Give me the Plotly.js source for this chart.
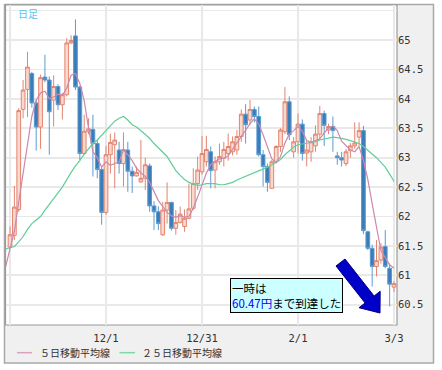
<!DOCTYPE html>
<html><head><meta charset="utf-8">
<script src="https://cdn.plot.ly/plotly-3.0.1.min.js"></script>
<style>html,body{margin:0;padding:0;background:#fff;}#chart{width:442px;height:370px;}</style>
</head><body><div id="chart"></div>
<script>
// ---- data ----
const openP  = [61.48,61.68,62.12,63.82,64.16,64.43,63.93,63.52,64.37,64.32,63.98,64.21,63.90,64.07,64.95,65.07,64.20,63.07,63.44,63.48,63.24,62.80,
                62.07,63.05,63.22,63.13,62.90,63.13,62.77,62.69,62.59,62.65,62.86,62.18,62.08,61.69,62.11,62.24,61.80,61.90,61.83,61.97,62.14,62.56,
                62.76,62.93,63.10,62.79,62.93,62.99,63.07,63.10,63.13,63.36,63.74,63.64,63.82,63.70,63.05,62.85,62.48,62.93,63.19,63.44,63.95,63.10,
                63.27,63.57,63.08,63.10,63.20,63.40,63.75,63.47,63.53,63.03,63.00,62.90,63.12,63.20,63.35,63.46,61.74,61.46,61.15,61.26,61.49,61.12,60.80];
const highP  = [61.83,62.52,63.84,64.32,64.80,64.46,63.98,64.41,64.75,64.38,64.40,64.25,64.10,65.03,65.08,65.35,64.22,63.73,63.67,63.73,63.30,62.85,
                63.20,63.41,63.43,63.27,63.43,63.27,62.85,62.85,63.30,63.00,62.90,62.26,62.17,62.25,62.58,62.25,62.11,62.17,62.12,62.56,62.82,63.02,
                63.37,63.37,63.19,63.02,63.24,63.27,63.41,63.36,63.47,63.82,63.91,63.98,63.87,63.87,63.13,62.90,62.96,63.21,63.50,64.20,64.04,63.35,
                63.75,63.65,63.30,63.35,63.55,63.88,63.80,63.58,63.70,63.10,63.10,63.15,63.25,63.60,63.60,63.54,61.76,61.52,61.60,61.55,61.77,61.20,60.90];
const lowP   = [61.46,61.60,62.08,63.67,63.69,63.85,63.12,63.15,64.28,63.05,63.53,63.81,63.65,64.04,64.93,64.15,62.96,63.05,63.40,62.68,62.65,61.86,
                62.03,62.73,62.48,62.73,62.51,62.42,62.40,62.68,62.57,62.45,62.08,61.77,61.77,61.67,61.88,61.76,61.69,61.88,61.74,61.95,62.11,62.45,
                62.71,62.85,62.48,62.48,62.88,62.85,62.95,63.04,63.05,63.27,63.24,63.56,63.60,63.02,62.51,62.42,62.47,62.90,63.10,63.40,63.30,63.00,
                63.07,62.95,62.85,62.93,63.10,63.30,63.20,63.40,63.10,62.88,62.85,62.86,63.00,63.15,63.20,61.70,61.43,60.81,60.98,61.20,61.12,60.47,60.72];
const closeP = [61.69,62.16,63.80,64.15,64.54,63.93,63.52,64.36,64.32,63.78,64.21,63.90,64.07,64.95,64.99,64.20,63.07,63.45,63.49,63.24,62.80,62.07,
                63.05,63.26,63.30,62.90,63.14,62.77,62.69,62.75,62.65,62.88,62.18,62.08,61.88,62.11,62.24,61.80,61.90,62.04,61.97,62.13,62.56,62.79,
                63.07,63.14,62.78,62.93,63.02,63.14,63.19,63.27,63.36,63.74,63.56,63.82,63.70,63.05,62.85,62.58,62.93,63.19,63.47,63.95,63.39,63.27,
                63.57,63.07,63.13,63.27,63.40,63.75,63.55,63.53,63.46,63.00,62.96,63.10,63.20,63.25,63.46,61.76,61.46,61.15,61.25,61.48,61.15,60.85,60.86];
// moving averages, first value is the day before the first candle
const ma5  = [61.15,61.43,61.75,62.25,62.75,63.22,63.70,63.98,64.10,64.13,64.00,64.03,64.08,64.06,64.18,64.40,64.43,64.26,63.97,63.50,63.10,63.00,62.84,
              62.93,62.87,62.90,62.93,63.13,63.05,62.95,62.82,62.74,62.68,62.58,62.42,62.27,62.17,62.07,62.01,61.99,62.01,61.99,62.00,62.14,62.33,
              62.52,62.74,62.88,62.94,62.98,62.99,63.03,63.14,63.23,63.36,63.46,63.58,63.66,63.57,63.39,63.17,62.98,62.92,63.02,63.25,63.40,63.46,
              63.53,63.45,63.29,63.26,63.29,63.32,63.42,63.50,63.54,63.46,63.28,63.20,63.13,63.10,63.19,62.95,62.63,62.22,61.82,61.42,61.30,61.18,61.12];
const ma25 = [61.45,61.47,61.49,61.57,61.66,61.78,61.88,61.94,62.00,62.11,62.20,62.30,62.40,62.50,62.63,62.75,62.86,62.95,63.06,63.16,63.24,63.30,63.38,
              63.47,63.55,63.62,63.67,63.70,63.64,63.56,63.52,63.46,63.40,63.33,63.24,63.17,63.10,63.02,62.90,62.78,62.70,62.63,62.58,62.55,62.53,
              62.54,62.56,62.56,62.56,62.54,62.54,62.56,62.58,62.62,62.65,62.69,62.72,62.74,62.77,62.80,62.84,62.88,62.92,62.97,63.05,63.12,63.18,
              63.22,63.23,63.24,63.25,63.27,63.30,63.32,63.34,63.35,63.34,63.33,63.31,63.29,63.27,63.24,63.19,63.13,63.06,63.00,62.92,62.84,62.72,62.60];
const tickDays   = [0, 22, 44, 66, 88];
const tickLabels = ['', '12/1', '12/31', '2/1', '3/3'];
const priceTicks = [60.5, 61, 61.5, 62, 62.5, 63, 63.5, 64, 64.5, 65, 65.5];
const priceLabels = ['60.5','61','61.5','62','62.5','63','63.5','64','64.5','65',''];
const seriesNames = ['５日移動平均線', '２５日移動平均線'];

// trading-day index for candles and MAs
const day = openP.map((_, i) => i);
const maDay = [-1].concat(day);

// ---- geometry helpers (pixel -> paper) ----
const L = 6, R = 397, T = 5, B = 325;
const px = v => (v - L) / (R - L);
const py = v => (B - v) / (B - T);

const C5 = '#cc88ad', C25 = '#5fcf94';

const traces = [
  {type:'scatter', mode:'lines', x: maDay, y: ma25, line:{color:C25, width:1.2}, hoverinfo:'skip', name: seriesNames[1]},
  {type:'candlestick', x: day, open: openP, high: highP, low: lowP, close: closeP,
   increasing:{line:{color:'#e3846f', width:1}, fillcolor:'#f8d9d0'},
   decreasing:{line:{color:'#5b9bd2', width:1}, fillcolor:'#3a7cb8'},
   whiskerwidth:0, hoverinfo:'skip'},
  {type:'scatter', mode:'lines', x: maDay, y: ma5, line:{color:C5, width:1.2}, hoverinfo:'skip', name: seriesNames[0]}
];

// arrow polygon in pixels
const arrowPts = [[345.0,259.0],[374.1,296.0],[380.2,291.3],[380.0,313.0],[359.0,307.7],[365.1,303.0],[336.0,266.0]];
const arrowPath = 'M' + arrowPts.map(p => px(p[0]).toFixed(4) + ',' + py(p[1]).toFixed(4)).join(' L') + ' Z';

const layout = {
  width: 442, height: 370,
  margin: {l: L, r: 442 - R, t: T, b: 370 - B, pad: 0},
  paper_bgcolor: '#ffffff', plot_bgcolor: 'rgba(0,0,0,0)',
  showlegend: false,
  boxgap: 0.15, boxgroupgap: 0,
  xaxis: {range: [-0.92, 88.69], tickmode:'array', tickvals: tickDays, ticktext: tickLabels,
          showgrid: true, gridcolor: '#e9e9e9', gridwidth: 1.5, zeroline: false, showline: false, ticks: '',
          ticklabelstandoff: 5,
          tickfont: {family: 'DejaVu Sans Mono', size: 10.5, color: '#333'},
          rangeslider: {visible: false}, fixedrange: true},
  yaxis: {side: 'right', range: [60.156, 65.595], tickmode:'array', tickvals: priceTicks, ticktext: priceLabels,
          showgrid: true, gridcolor: '#e9e9e9', gridwidth: 1.8, zeroline: false, showline: false, ticks: '',
          tickfont: {family: 'DejaVu Sans Mono', size: 10.5, color: '#333'}, fixedrange: true},
  shapes: [
    {type:'rect', xref:'paper', yref:'paper', x0: px(4.5), x1: px(433.5), y0: py(363), y1: py(4.5),
     fillcolor:'#f0f0f0', line:{color:'#a8a8a8', width:1.5}, layer:'below'},
    {type:'rect', xref:'paper', yref:'paper', x0: px(5.5), x1: px(397), y0: py(325), y1: py(5),
     fillcolor:'#ffffff', line:{color:'#9a9a9a', width:1.2}, layer:'below'},
    {type:'path', xref:'paper', yref:'paper', path: arrowPath, fillcolor:'#0000c8', line:{color:'#000080', width:1}},
    {type:'line', xref:'paper', yref:'paper', x0: px(17), x1: px(32), y0: py(352.7), y1: py(352.7), line:{color:'#d9a3bd', width:1.5}},
    {type:'line', xref:'paper', yref:'paper', x0: px(119.5), x1: px(135), y0: py(352.7), y1: py(352.7), line:{color:'#7fd8aa', width:1.5}}
  ],
  annotations: [
    {xref:'paper', yref:'paper', x: px(16), y: py(13.7), xanchor:'left', yanchor:'middle', showarrow:false,
     text:'日足', font:{family:'Noto Sans CJK JP', size:10, color:'#5cc6ea'}},
    {xref:'paper', yref:'paper', x: px(37.5), y: py(352.7), xanchor:'left', yanchor:'middle', showarrow:false,
     text: seriesNames[0], font:{family:'Noto Sans CJK JP', size:10, color:'#333'}},
    {xref:'paper', yref:'paper', x: px(139.5), y: py(352.7), xanchor:'left', yanchor:'middle', showarrow:false,
     text: seriesNames[1], font:{family:'Noto Sans CJK JP', size:10, color:'#333'}},
    {xref:'paper', yref:'paper', x: px(230), y: py(295.4), xanchor:'left', yanchor:'middle', showarrow:false, align:'left',
     text:'一時は<br><span style="color:#0000ff">60.47円</span>まで到達した',
     font:{family:'Noto Sans CJK JP', size:11.5, color:'#000'},
     bgcolor:'#ccffff', bordercolor:'#000', borderwidth:1, borderpad:1}
  ]
};

Plotly.newPlot('chart', traces, layout, {displayModeBar:false, staticPlot:true});
</script>
</body></html>
